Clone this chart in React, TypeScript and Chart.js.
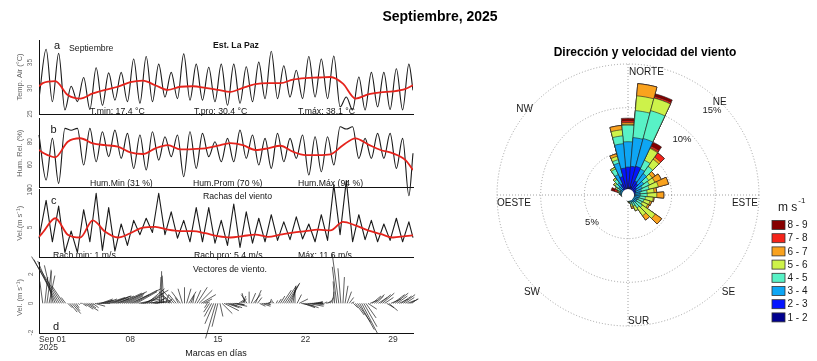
import React, { useEffect, useRef } from 'react';
import { Chart, registerables } from 'chart.js';
Chart.register(...registerables);

const FONT = '"Liberation Sans", Arial, Helvetica, sans-serif';
const H = 361;

// ---------- time axis (days since Sep 01 2025) ----------
const DAY_START = -0.3;
const DAY_END = 29.6;
const HIGH_AT = 0.27; // afternoon sample of each day
const LOW_AT = 0.77; // night sample of each day
const xTickDays = [0, 7, 14, 21, 28];
const xTickLabels = ['Sep 01', '08', '15', '22', '29'];
const xYearLabel = '2025';

const meanDays = [-0.3, 0, 1, 2, 3, 4, 5, 6, 7, 8, 9, 10, 11, 12, 13, 14, 15, 16, 17, 18, 19, 20, 21, 22, 23, 24, 25, 26, 27, 28, 29, 29.6];

// ---------- (a) air temperature ----------
const tempTicks = [25, 30, 35];
const tempStart = 28.0;
const tempEnd = 29.6;
const tempMax = [37.6, 36.8, 30.4, 32.1, 34.0, 33.0, 33.1, 35.7, 36.2, 34.7, 33.1, 36.7, 34.7, 34.1, 34.7, 34.7, 34.2, 35.1, 37.2, 34.4, 33.5, 36.2, 35.7, 36.3, 28.3, 32.2, 33.1, 33.1, 33.8, 34.7];
const tempMin = [27.4, 25.8, 27.4, 25.9, 26.7, 27.7, 27.4, 27.1, 27.4, 28.3, 28.0, 27.7, 27.7, 27.4, 26.7, 27.1, 27.4, 28.0, 28.0, 28.3, 28.0, 28.3, 28.0, 26.4, 25.8, 25.8, 26.4, 25.9, 25.8];
const tempMean = [30.4, 31.0, 31.4, 28.7, 28.0, 29.0, 29.7, 30.3, 31.2, 31.5, 30.6, 29.7, 30.3, 30.4, 30.1, 29.7, 29.3, 30.1, 30.8, 31.0, 31.0, 31.7, 32.0, 32.1, 32.2, 30.9, 28.0, 28.8, 29.2, 29.4, 29.9, 30.6];

// ---------- (b) relative humidity ----------
const humTicks = [40, 60, 80];
const humStart = 85.8;
const humEnd = 69.9;
const humAfternoon = [46.7, 43.8, 90, 59.7, 62.6, 67, 65.5, 56.8, 55.4, 64, 67, 49.6, 56.8, 67, 62.6, 62.6, 65.5, 59.7, 56.8, 62.6, 65.5, 51, 53.9, 59.7, 91, 65.5, 65.5, 65.5, 56.8, 33];
const humNight = [82.9, 91.6, 91.6, 91.6, 88.7, 90.1, 87.2, 85.8, 88.7, 84.3, 85.8, 88.7, 87.2, 80, 82.9, 90.1, 85.8, 82.9, 87.2, 82.9, 85.8, 84.3, 84.3, 93, 93, 82.9, 87.2, 87.2, 82.9];
const humMean = [72.8, 70.5, 66.5, 80, 83, 78.5, 77, 75.7, 70.7, 69.3, 74.2, 77, 73.3, 73.6, 74.2, 76.5, 78.8, 77, 72.8, 74.2, 76.5, 71.3, 68.4, 68.4, 69, 77, 82.9, 77.7, 72.8, 69.9, 64, 55.4];

// ---------- (c) wind gusts ----------
const windTicks = [5, 10];
const windStart = 3.5;
const windEnd = 3.6;
const windHigh = [8.8, 8.0, 4.5, 7.5, 9.8, 7.8, 5.5, 6.0, 6.3, 9.8, 7.2, 6.0, 7.8, 7.8, 6.0, 8.3, 7.2, 6.3, 6.8, 5.8, 6.5, 5.5, 6.8, 11.0, 11.6, 6.8, 6.0, 5.5, 6.3, 5.8];
const windLow = [3.0, 1.5, 1.5, 3.0, 1.8, 1.7, 2.5, 4.0, 4.3, 4.0, 3.5, 3.0, 3.0, 2.8, 2.5, 2.2, 2.8, 3.0, 3.2, 3.3, 3.4, 3.0, 3.2, 4.0, 3.0, 3.3, 3.0, 3.2, 3.0];
const windMean = [3.7, 4.3, 6.3, 4.0, 3.6, 6.0, 4.4, 3.6, 4.2, 5.0, 5.1, 4.7, 4.5, 4.5, 4.2, 3.8, 3.6, 3.8, 4.0, 3.7, 4.0, 4.3, 4.5, 4.7, 4.6, 5.8, 5.3, 4.6, 4.1, 3.6, 3.8, 3.9];

// ---------- (d) wind vectors, every 4 h (m/s) ----------
const vecTicks = [-2, 0, 2];
const VEC_STEP = 1 / 6;
const STICK_DAYS_PER_MS = 1.17;
const vecU = [
  -0.2, 0.2, 0.3, 0.4, 0.0, -0.6,
  -1.2, -1.6, -1.9, -1.5, -0.8, -0.3,
  0.3, 0.5, 0.6, 0.4, 0.2, 0.1,
  0.1, 0.3, 0.6, 0.8, 0.5, 0.2,
  0.4, 0.7, 0.9, 1.0, 0.8, 0.6,
  0.8, 1.2, 1.5, 1.3, 1.0, 0.9,
  1.1, 1.5, 1.7, 1.4, 1.2, 1.0,
  1.3, 1.7, 1.8, 1.4, 1.5, 1.6,
  1.4, 1.6, 1.2, 1.0, 0.9, 1.2,
  1.0, 0.6, 0.1, 0.0, -0.1, 0.2,
  0.3, -0.5, -0.9, -0.8, -0.5, -0.2,
  -0.6, -0.3, 0.0, 0.3, 0.5, 0.2,
  0.1, 0.4, 0.7, 0.9, 1.0, 0.6,
  0.3, -0.2, -0.4, -0.5, -0.6, -0.7,
  -0.4, 0.2, 0.7, 1.0, 0.9, 0.6,
  0.8, 1.0, 0.7, 0.5, 0.3, 0.4,
  0.2, -0.2, -0.4, 0.0, 0.3, 0.5,
  0.4, 0.3, 0.4, 0.6, 0.5, 0.3,
  0.2, 0.1, 0.0, -0.1, 0.1, 0.2,
  0.3, 0.6, 0.8, 0.9, 0.7, 0.4,
  0.2, 0.0, 0.3, 0.6, 0.9, 0.8,
  0.9, 1.1, 1.0, 0.8, 0.6, 0.5,
  0.3, 0.2, 0.1, 0.2, 0.3, 0.2,
  0.2, 0.1, -0.1, -0.3, -0.45, -0.2,
  0.1, 0.2, 0.3, 0.3, 0.2, 0.3,
  0.6, 0.9, 1.0, 1.1, 0.9, 0.7,
  0.6, 0.5, 0.6, 0.7, 0.5, 0.6,
  0.7, 0.8, 0.6, 0.5, 0.6, 0.7,
  0.8, 0.9, 0.7, 0.6, 0.7, 0.8,
  0.6, 0.5, 0.6, 0.4,
];
const vecV = [
  1.5, 1.8, 2.2, 1.9, 2.3, 2.6,
  2.9, 3.0, 3.2, 2.4, 1.2, 0.4,
  -0.3, -0.6, -0.7, -0.5, -0.3, -0.1,
  0.0, -0.2, -0.4, -0.5, -0.3, -0.1,
  -0.3, -0.2, 0.0, 0.2, 0.3, 0.2,
  0.3, 0.4, 0.5, 0.5, 0.4, 0.3,
  0.5, 0.7, 0.8, 0.7, 0.6, 0.5,
  0.6, 0.9, 1.0, 0.8, 0.3, 0.1,
  0.5, 0.9, 1.0, 0.7, 0.3, 0.1,
  0.2, 0.4, 1.8, 2.2, 1.9, 0.6,
  0.3, 0.5, 0.8, 0.9, 0.6, 0.4,
  0.8, 1.0, 1.1, 1.0, 0.8, 0.5,
  0.6, 0.9, 1.1, 0.9, 0.6, 0.3,
  0.1, -0.3, -0.6, -0.9, -1.4, -2.4,
  -1.6, -0.9, -0.7, -0.5, -0.3, -0.2,
  -0.3, -0.2, -0.1, -0.1, 0.2, 0.3,
  0.5, 0.7, 0.6, 0.8, 0.7, 0.6,
  0.9, 0.4, -0.2, -0.2, -0.1, 0.0,
  0.1, 0.3, 0.2, 0.1, 0.2, 0.3,
  0.5, 0.9, 1.2, 1.4, 1.3, 1.1,
  1.2, 0.9, 0.6, 0.3, -0.2, -0.3,
  -0.3, -0.2, -0.1, 0.0, 0.1, 0.0,
  0.1, 0.1, 0.0, 0.1, 0.1, 0.2,
  0.4, 0.8, 1.5, 2.5, 3.4, 2.4,
  1.8, 1.2, 0.8, 0.4, 0.1, -0.3,
  -0.8, -1.3, -1.8, -2.1, -1.6, -1.0,
  -0.4, 0.2, 0.5, 0.6, 0.5, 0.4,
  0.6, 0.7, 0.4, -0.3, -0.5, 0.3,
  0.6, 0.7, 0.5, 0.3, 0.5, 0.6,
  0.4, 0.2, 0.3, 0.3,
];

// ---------- wind rose: frequency (%) by direction and speed class ----------
const directions = [0, 10, 20, 30, 40, 50, 60, 70, 80, 90, 100, 110, 120, 130, 140, 150, 160, 170, 180, 190, 200, 210, 220, 230, 240, 250, 260, 270, 280, 290, 300, 310, 320, 330, 340, 350];
const speed12 = [0.8, 0.8, 1.0, 0.6, 0.6, 0.5, 0.5, 0.4, 0.4, 0.4, 0.3, 0.3, 0.3, 0.3, 0.3, 0.3, 0.3, 0.3, 0.3, 0.3, 0.2, 0.2, 0.2, 0.2, 0.2, 0.2, 0.2, 0.3, 0.3, 0.3, 0.3, 0.3, 0.4, 0.5, 0.7, 0.8];
const speed23 = [2.4, 2.5, 2.4, 1.2, 1.0, 0.7, 0.5, 0.5, 0.4, 0.4, 0.4, 0.3, 0.3, 0.3, 0.3, 0.2, 0.2, 0.2, 0.2, 0.2, 0.2, 0.2, 0.2, 0.2, 0.2, 0.2, 0.2, 0.2, 0.3, 0.3, 0.3, 0.4, 0.5, 0.9, 1.5, 2.3];
const speed34 = [2.9, 3.3, 3.3, 1.5, 1.4, 1.0, 0.8, 0.7, 0.6, 0.6, 0.6, 0.6, 0.5, 0.6, 0.4, 0.4, 0.3, 0.2, 0.1, 0.1, 0.1, 0.1, 0.1, 0.1, 0.1, 0.1, 0.2, 0.2, 0.3, 0.3, 0.4, 0.6, 0.8, 1.2, 1.6, 2.8];
const speed45 = [1.9, 3.1, 3.3, 1.1, 1.0, 0.7, 0.9, 0.9, 0.8, 0.8, 0.7, 0.7, 0.7, 0.8, 0.8, 0.5, 0.3, 0.1, 0.1, 0, 0, 0, 0, 0, 0, 0.1, 0.1, 0.1, 0.1, 0.2, 0.4, 0.5, 0.5, 0.7, 0.4, 0.9];
const speed56 = [0.1, 1.7, 1.5, 1.5, 1.0, 0.5, 0.7, 1.1, 0.8, 1.1, 0.9, 0.7, 0.7, 1.8, 1.1, 0.6, 0.3, 0.1, 0, 0, 0, 0, 0, 0, 0, 0, 0, 0, 0, 0.1, 0.2, 0.2, 0.2, 0.2, 0.4, 0.7];
const speed67 = [0.2, 1.4, 0, 0.1, 0.3, 0.4, 0.8, 1.2, 0.3, 0.8, 0.1, 0.2, 0.2, 0.9, 0.6, 0, 0.2, 0, 0, 0, 0, 0, 0, 0, 0, 0, 0, 0, 0, 0.1, 0, 0, 0, 0, 0.3, 0.5];
const speed78 = [0.2, 0, 0.2, 0.2, 0.6, 0, 0, 0, 0, 0, 0, 0, 0, 0, 0, 0, 0, 0, 0, 0, 0, 0, 0, 0, 0, 0, 0, 0, 0, 0.3, 0, 0, 0, 0, 0, 0];
const speed89 = [0.3, 0, 0.3, 0.5, 0, 0, 0, 0, 0, 0, 0, 0, 0, 0, 0, 0, 0, 0, 0, 0, 0, 0, 0, 0, 0, 0, 0, 0, 0, 0.4, 0, 0, 0, 0, 0, 0];
const speedClassLabels = ['1 - 2', '2 - 3', '3 - 4', '4 - 5', '5 - 6', '6 - 7', '7 - 8', '8 - 9'];
const speedClassColors = ['#00008f', '#0414ff', '#0ea6f4', '#58f2c6', '#cdf24a', '#f9a21e', '#f5241a', '#860000'];
const roseRings = [5, 10, 15];
const ringLabels = ['5%', '10%', '15%'];
const compassLabels = ['NORTE', 'NE', 'ESTE', 'SE', 'SUR', 'SW', 'OESTE', 'NW'];

type Pt = { x: number; y: number | null };

function dailyCycle(start: number, first: number[], second: number[], end: number): Pt[] {
  const pts: Pt[] = [{ x: DAY_START, y: start }];
  first.forEach((v, i) => {
    pts.push({ x: i + HIGH_AT, y: v });
    if (i < second.length) pts.push({ x: i + LOW_AT, y: second[i] });
  });
  pts.push({ x: DAY_END, y: end });
  return pts;
}
function meanCurve(vals: number[]): Pt[] {
  return meanDays.map((d, i) => ({ x: d, y: vals[i] }));
}
function sticks(u: number[], v: number[]): Pt[] {
  const pts: Pt[] = [];
  u.forEach((ui, i) => {
    const t = i * VEC_STEP;
    pts.push({ x: t, y: 0 }, { x: t + ui * STICK_DAYS_PER_MS, y: v[i] }, { x: t, y: null });
  });
  return pts;
}

const RED = '#e5231c';
const BLACK = '#1a1a1a';

function panelConfig(p: { top: number; bottom: number; min: number; max: number; ticks: number[]; title: string; datasets: any[]; plugins?: any[] }): any {
  return {
    type: 'line',
    data: { datasets: p.datasets },
    options: {
      responsive: false,
      animation: false,
      devicePixelRatio: 1,
      events: [],
      layout: { padding: { left: 0, right: 7, top: p.top, bottom: H - p.bottom } },
      plugins: { legend: { display: false }, tooltip: { enabled: false } },
      elements: { point: { radius: 0, hoverRadius: 0 }, line: { borderJoinStyle: 'round' } },
      scales: {
        x: {
          type: 'linear', min: DAY_START, max: DAY_END,
          grid: { display: false, drawTicks: false },
          border: { display: true, color: '#111', width: 1 },
          ticks: { display: false },
          afterFit: (s: any) => { s.height = 0; },
        },
        y: {
          type: 'linear', min: p.min, max: p.max,
          afterBuildTicks: (s: any) => { s.ticks = p.ticks.map((v) => ({ value: v })); },
          grid: { display: false, drawTicks: false },
          border: { display: true, color: '#111', width: 1 },
          ticks: { color: '#666', font: { size: 6.5, family: FONT }, minRotation: 90, maxRotation: 90, crossAlign: 'center', padding: 5 },
          title: { display: true, text: p.title, color: '#666', font: { size: 7.5, family: FONT }, padding: { top: 15, bottom: 0 } },
          afterFit: (s: any) => { s.width = 39; },
        },
      },
    },
    plugins: p.plugins || [],
  };
}

const xLabelPlugin = {
  id: 'xDayLabels',
  afterDraw(chart: any) {
    const xs = chart.scales.x;
    const ctx = chart.ctx;
    const y = chart.chartArea.bottom;
    ctx.save();
    ctx.font = `8.5px ${FONT}`;
    ctx.fillStyle = '#333';
    ctx.textBaseline = 'middle';
    xTickDays.forEach((d, i) => {
      const px = xs.getPixelForValue(d);
      if (i === 0) {
        ctx.textAlign = 'left';
        ctx.fillText(xTickLabels[0], xs.left, y + 7);
        ctx.fillText(xYearLabel, xs.left, y + 15);
      } else {
        ctx.textAlign = 'center';
        ctx.fillText(xTickLabels[i], px, y + 7);
      }
    });
    ctx.restore();
  },
};

const roseDecor = {
  id: 'roseDecor',
  beforeDatasetsDraw(chart: any) {
    const s = chart.scales.r;
    const ctx = chart.ctx;
    const cx = s.xCenter, cy = s.yCenter, R = s.drawingArea;
    ctx.save();
    ctx.strokeStyle = '#8c8c8c';
    ctx.lineWidth = 0.8;
    ctx.setLineDash([1, 2]);
    ctx.beginPath();
    ctx.moveTo(cx, cy - R); ctx.lineTo(cx, cy + R);
    ctx.moveTo(cx - R, cy); ctx.lineTo(cx + R, cy);
    ctx.stroke();
    ctx.restore();
  },
  afterDatasetsDraw(chart: any) {
    const s = chart.scales.r;
    const ctx = chart.ctx;
    const cx = s.xCenter, cy = s.yCenter, R = s.drawingArea;
    ctx.save();
    // calm hole
    ctx.fillStyle = '#fff';
    ctx.beginPath();
    ctx.arc(cx, cy, s.getDistanceFromCenterForValue(0.7), 0, Math.PI * 2);
    ctx.fill();
    // compass labels
    ctx.fillStyle = '#1a1a1a';
    ctx.font = `10px ${FONT}`;
    ctx.textBaseline = 'middle';
    const place: [string, number, number, CanvasTextAlign][] = [
      [compassLabels[0], cx + 1, cy - R + 8, 'left'],
      [compassLabels[1], cx + 0.7 * R, cy - 0.706 * R, 'center'],
      [compassLabels[2], cx + R - 1, cy + 8, 'right'],
      [compassLabels[3], cx + 0.767 * R, cy + 0.744 * R, 'center'],
      [compassLabels[4], cx, cy + R - 4.5, 'left'],
      [compassLabels[5], cx - 0.733 * R, cy + 0.744 * R, 'center'],
      [compassLabels[6], cx - R, cy + 8, 'left'],
      [compassLabels[7], cx - 0.79 * R, cy - 0.653 * R, 'center'],
    ];
    place.forEach(([t, x, y, a]) => { ctx.textAlign = a; ctx.fillText(t, x, y); });
    // ring labels
    ctx.font = `9.5px ${FONT}`;
    ctx.textAlign = 'center';
    const ringPos: [number, number][] = [[-0.275, 0.206], [0.412, -0.427], [0.641, -0.649]];
    roseRings.forEach((v, i) => {
      ctx.fillText(ringLabels[i], cx + ringPos[i][0] * R, cy + ringPos[i][1] * R);
    });
    // legend
    const bx = cx + 144;
    ctx.textAlign = 'left';
    ctx.font = `12px ${FONT}`;
    ctx.fillText('m s', cx + 150, cy + 13);
    const w = ctx.measureText('m s').width;
    ctx.font = `8px ${FONT}`;
    ctx.fillText('-1', cx + 150 + w + 1, cy + 6);
    ctx.font = `10px ${FONT}`;
    const ds = chart.data.datasets;
    for (let j = 0; j < ds.length; j++) {
      const d = ds[ds.length - 1 - j];
      const y = cy + 30 + j * 13.2;
      ctx.fillStyle = d.backgroundColor;
      ctx.fillRect(bx, y - 4.5, 13, 9);
      ctx.strokeStyle = '#333';
      ctx.lineWidth = 0.8;
      ctx.strokeRect(bx, y - 4.5, 13, 9);
      ctx.fillStyle = '#1a1a1a';
      ctx.fillText(d.label, bx + 15.5, y + 0.5);
    }
    ctx.restore();
  },
};

function Txt(props: { x: number; y: number; children: React.ReactNode; size?: number; bold?: boolean; align?: 'left' | 'center'; color?: string }) {
  const { x, y, children, size = 8.7, bold = false, align = 'left', color = '#151515' } = props;
  return (
    <div style={{ position: 'absolute', left: x, top: y, transform: `translate(${align === 'center' ? '-50%' : '0'}, -50%)`, fontSize: size, fontWeight: bold ? 'bold' : 'normal', whiteSpace: 'nowrap', lineHeight: 1, color, fontFamily: FONT }}>
      {children}
    </div>
  );
}

export default function App() {
  const refA = useRef<HTMLCanvasElement>(null);
  const refB = useRef<HTMLCanvasElement>(null);
  const refC = useRef<HTMLCanvasElement>(null);
  const refD = useRef<HTMLCanvasElement>(null);
  const refR = useRef<HTMLCanvasElement>(null);

  useEffect(() => {
    Chart.defaults.font.family = FONT;
    const charts: Chart[] = [];
    charts.push(new Chart(refA.current!, panelConfig({
      top: 40, bottom: 114, min: 25, max: 39.4, ticks: tempTicks, title: 'Temp. Air (°C)',
      datasets: [
        { data: meanCurve(tempMean), borderColor: RED, borderWidth: 1.8, cubicInterpolationMode: 'monotone' },
        { data: dailyCycle(tempStart, tempMax, tempMin, tempEnd), borderColor: BLACK, borderWidth: 1.1, cubicInterpolationMode: 'monotone' },
      ],
    })));
    charts.push(new Chart(refB.current!, panelConfig({
      top: 118.7, bottom: 187.7, min: 40, max: 100, ticks: humTicks, title: 'Hum. Rel. (%)',
      datasets: [
        { data: meanCurve(humMean), borderColor: RED, borderWidth: 1.8, cubicInterpolationMode: 'monotone' },
        { data: dailyCycle(humStart, humAfternoon, humNight, humEnd), borderColor: BLACK, borderWidth: 1.1, cubicInterpolationMode: 'monotone', clip: false },
      ],
    })));
    charts.push(new Chart(refC.current!, panelConfig({
      top: 189, bottom: 257.5, min: 0.8, max: 10.4, ticks: windTicks, title: 'Vel.(m s⁻¹)',
      datasets: [
        { data: meanCurve(windMean), borderColor: RED, borderWidth: 1.8, cubicInterpolationMode: 'monotone' },
        { data: dailyCycle(windStart, windHigh, windLow, windEnd), borderColor: BLACK, borderWidth: 1.1, tension: 0, clip: false },
      ],
    })));
    charts.push(new Chart(refD.current!, panelConfig({
      top: 262, bottom: 333, min: -2.03, max: 2.83, ticks: vecTicks, title: 'Vel. (m s⁻¹)',
      datasets: [
        { data: sticks(vecU, vecV), borderColor: BLACK, borderWidth: 0.7, spanGaps: false, clip: false },
      ],
      plugins: [xLabelPlugin],
    })));

    const classes = [speed12, speed23, speed34, speed45, speed56, speed67, speed78, speed89];
    let cum = directions.map(() => 0);
    const roseSets = classes.map((vals, k) => {
      cum = cum.map((c, i) => c + vals[i]);
      return { label: speedClassLabels[k], data: cum.slice(), backgroundColor: speedClassColors[k], borderColor: '#222', borderWidth: 0.6 };
    });
    charts.push(new Chart(refR.current!, {
      type: 'polarArea',
      data: { labels: directions.map((d) => `${d}°`), datasets: roseSets },
      options: {
        responsive: false,
        animation: false,
        devicePixelRatio: 1,
        events: [],
        layout: { padding: { left: 77, right: 58, top: 64, bottom: 35 } },
        plugins: { legend: { display: false }, tooltip: { enabled: false } },
        scales: {
          r: {
            min: 0, max: 15, startAngle: -5,
            ticks: { display: false, stepSize: 5 },
            grid: { circular: true, color: '#8c8c8c', lineWidth: 0.8 },
            border: { dash: [1, 2] },
            angleLines: { display: false },
            pointLabels: { display: false },
          },
        },
      } as any,
      plugins: [roseDecor],
    }));
    return () => charts.forEach((c) => c.destroy());
  }, []);

  const cv = (ref: React.RefObject<HTMLCanvasElement | null>, left: number, w: number) => (
    <canvas ref={ref} width={w} height={H} style={{ position: 'absolute', left, top: 0, width: w, height: H }} />
  );

  return (
    <div style={{ position: 'absolute', left: 0, top: 0, width: 817, height: H, background: '#fff', overflow: 'hidden' }}>
      {cv(refA, 0, 420)}
      {cv(refB, 0, 420)}
      {cv(refC, 0, 420)}
      {cv(refD, 0, 420)}
      {cv(refR, 420, 397)}
      <Txt x={440} y={15.5} size={14} bold align="center" color="#000">Septiembre, 2025</Txt>
      <Txt x={645} y={52} size={12} bold align="center" color="#000">Dirección y velocidad del viento</Txt>
      <Txt x={54} y={45} size={11}>a</Txt>
      <Txt x={69} y={48}>Septiembre</Txt>
      <Txt x={213} y={44.5} bold>Est. La Paz</Txt>
      <Txt x={90} y={111}>T.min: 17.4 °C</Txt>
      <Txt x={194} y={111}>T.pro: 30.4 °C</Txt>
      <Txt x={298} y={111}>T.máx: 38.1 °C</Txt>
      <Txt x={50.5} y={129} size={11}>b</Txt>
      <Txt x={90} y={183}>Hum.Min (31 %)</Txt>
      <Txt x={193} y={183}>Hum.Prom (70 %)</Txt>
      <Txt x={298} y={183}>Hum.Máx (94 %)</Txt>
      <Txt x={203} y={196}>Rachas del viento</Txt>
      <Txt x={51} y={200} size={11}>c</Txt>
      <Txt x={53} y={254.5}>Rach.min: 1 m/s</Txt>
      <Txt x={194} y={254.5}>Rach.pro: 5.4 m/s</Txt>
      <Txt x={298} y={254.5}>Máx: 11.6 m/s</Txt>
      <Txt x={193} y={269}>Vectores de viento.</Txt>
      <Txt x={53} y={326} size={11}>d</Txt>
      <Txt x={216} y={353} size={9} align="center">Marcas en días</Txt>
    </div>
  );
}
